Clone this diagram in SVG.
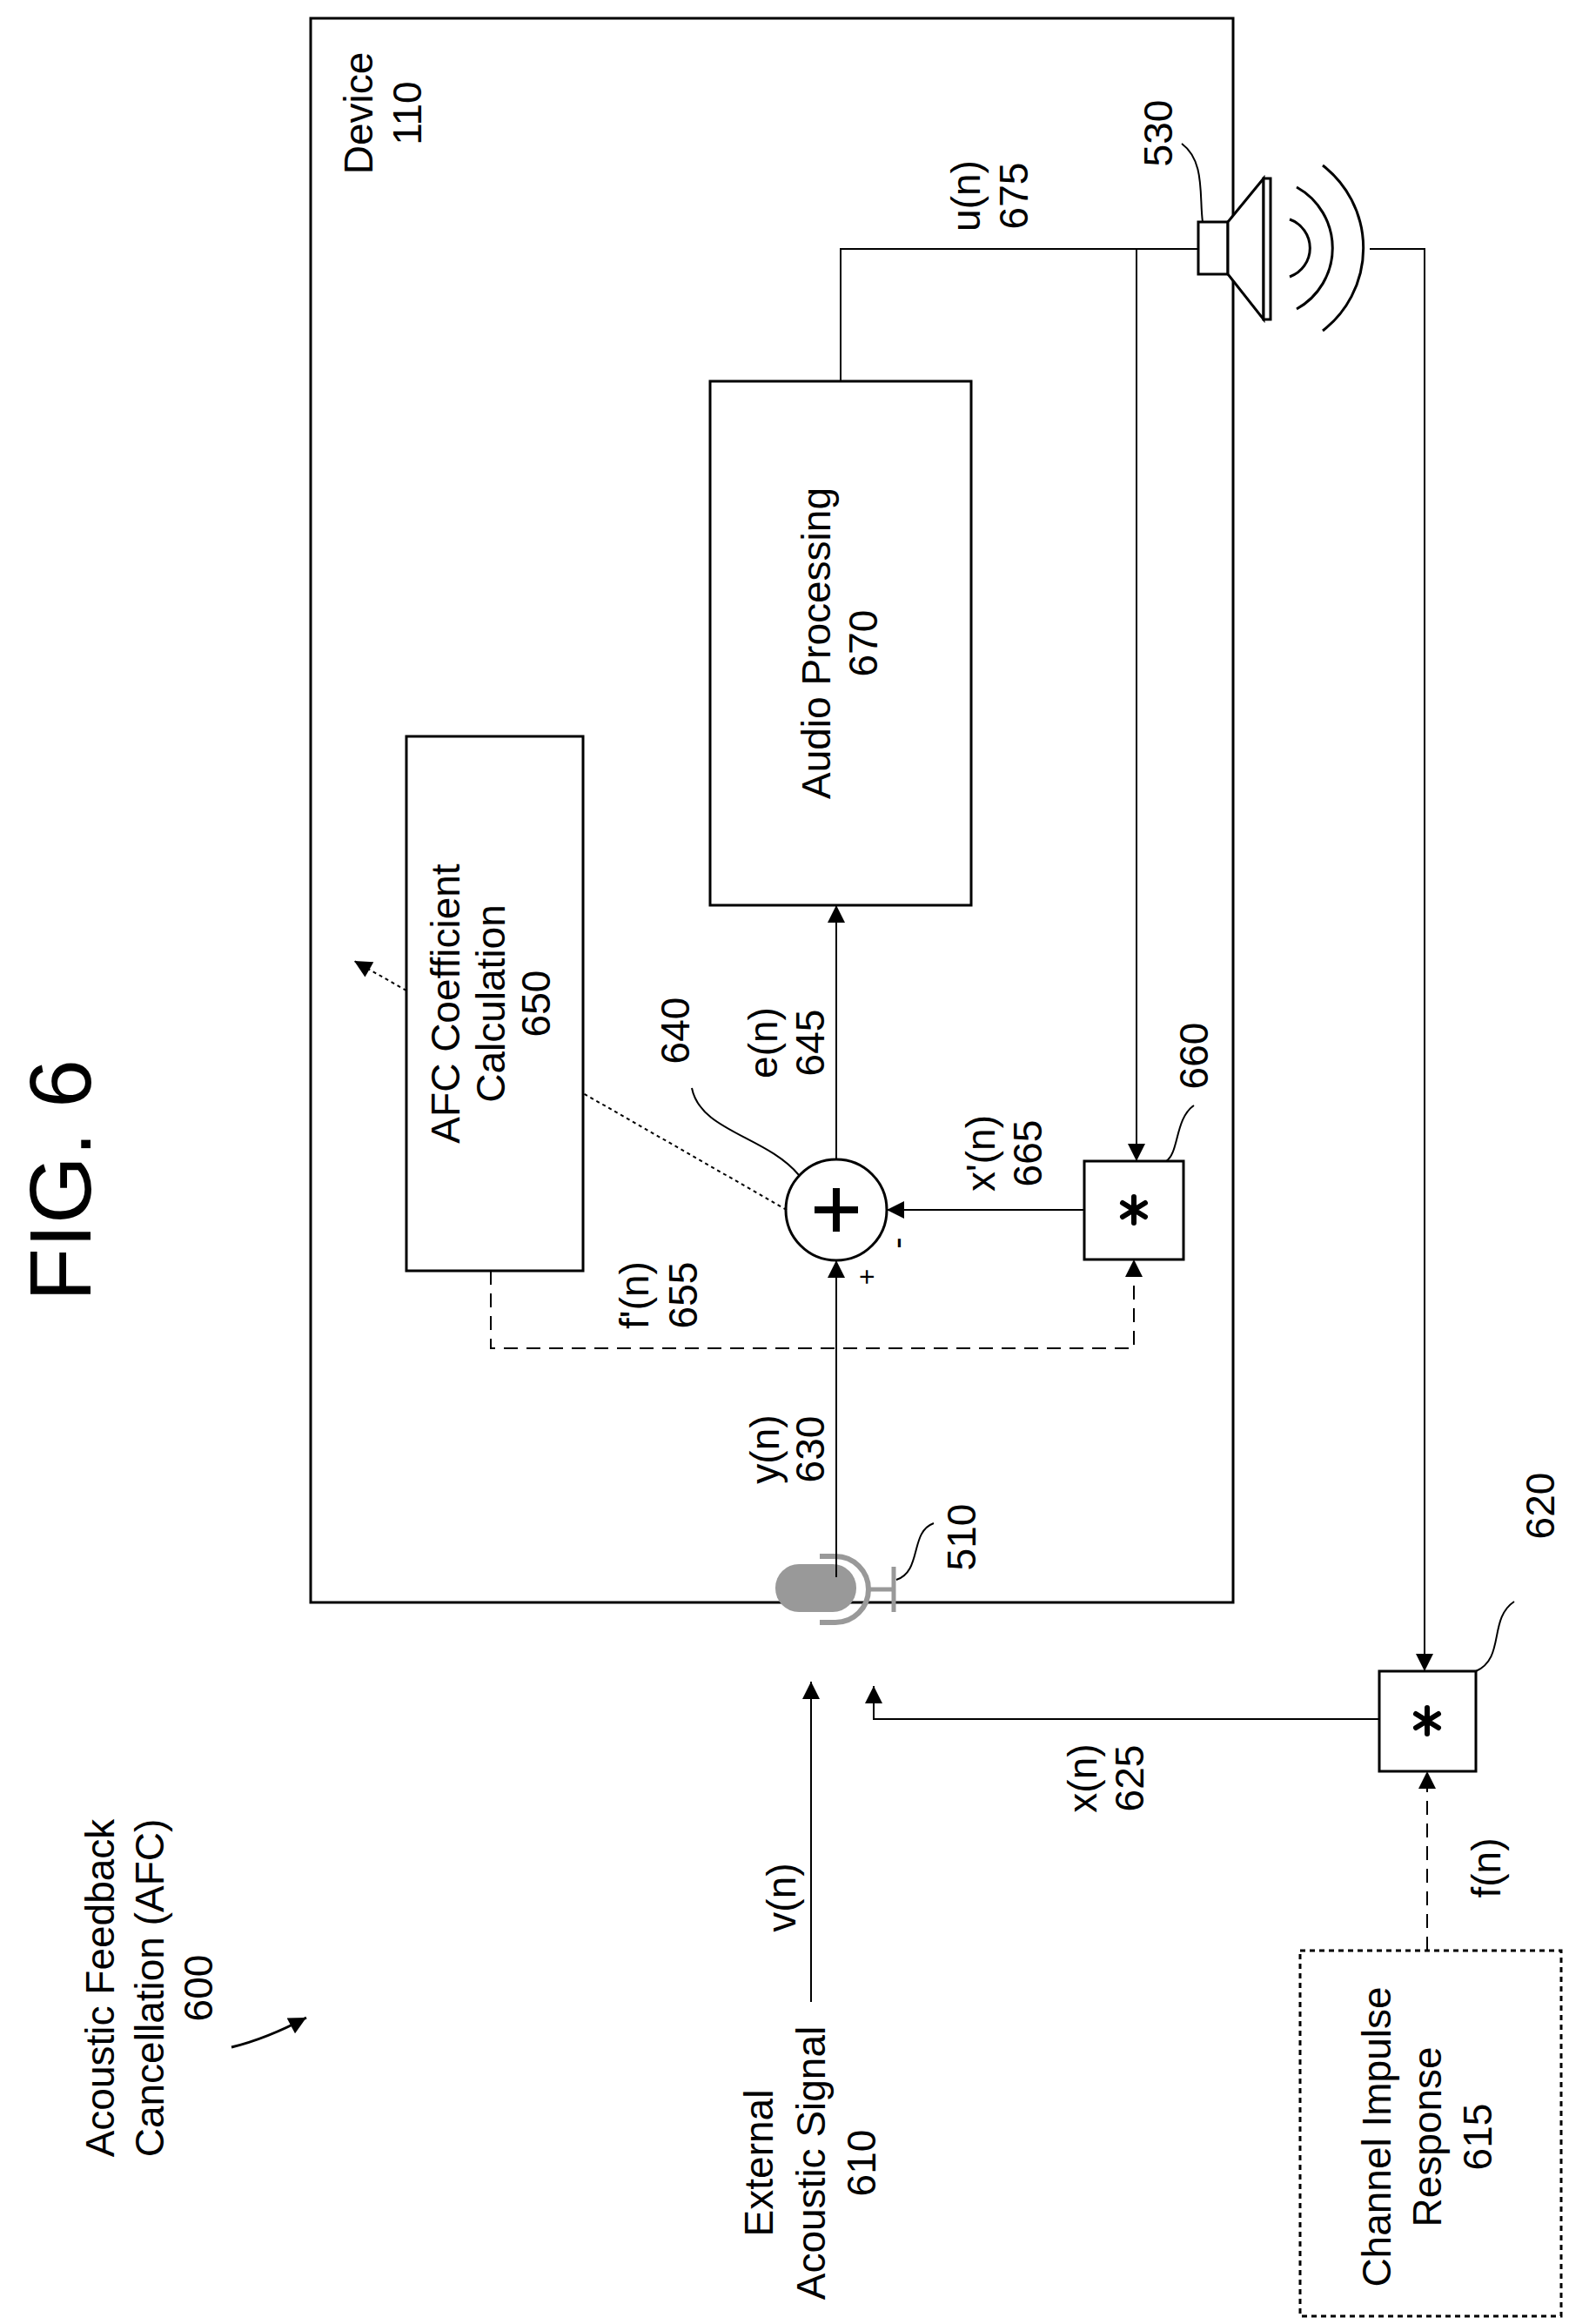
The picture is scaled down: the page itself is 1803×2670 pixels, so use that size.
<svg xmlns="http://www.w3.org/2000/svg" width="1803" height="2670" viewBox="0 0 1803 2670">
<style>
text{font-family:"Liberation Sans",Arial,sans-serif;font-size:46px;fill:#000;text-anchor:middle;dominant-baseline:central}
.b{fill:#fff;stroke:#000;stroke-width:3}
.l{fill:none;stroke:#000;stroke-width:2}
.d{fill:none;stroke:#000;stroke-width:2;stroke-dasharray:16,10}
.o{fill:none;stroke:#000;stroke-width:2;stroke-dasharray:4,4}
.ast{stroke:#000;stroke-width:6;stroke-linecap:round}
</style>
<defs>
<marker id="A" viewBox="0 0 10 10" refX="10" refY="5" markerWidth="24" markerHeight="20" markerUnits="userSpaceOnUse" orient="auto"><path d="M0,0L10,5L0,10z"/></marker>
</defs>
<text x="69" y="1356" style="font-size:100px" transform="rotate(-90 69 1356)">FIG. 6</text>
<g id="device"><rect x="357" y="21" width="1060" height="1820" fill="none" stroke="#000" stroke-width="3"/>
<text x="412" y="130" transform="rotate(-90 412 130)">Device</text><text x="468" y="130" transform="rotate(-90 468 130)">110</text></g>
<g id="afc"><rect x="467" y="846" width="203" height="614" class="b"/>
<text x="512" y="1153" transform="rotate(-90 512 1153)">AFC Coefficient</text>
<text x="564" y="1153" transform="rotate(-90 564 1153)">Calculation</text>
<text x="616" y="1153" transform="rotate(-90 616 1153)">650</text></g>
<g id="audio"><rect x="816" y="438" width="300" height="602" class="b"/>
<text x="938" y="739" transform="rotate(-90 938 739)">Audio Processing</text>
<text x="992" y="739" transform="rotate(-90 992 739)">670</text></g>
<g id="sum"><circle cx="961" cy="1390" r="58" class="b"/>
<path d="M936,1390h50M961,1365v50" stroke="#000" stroke-width="8"/>
<text x="996" y="1467" style="font-size:32px" transform="rotate(-90 996 1467)">+</text>
<text x="1030" y="1428" style="font-size:40px" transform="rotate(-90 1030 1428)">-</text>
<text x="776" y="1184" transform="rotate(-90 776 1184)">640</text>
<path class="l" d="M795,1250C805,1300 880,1305 918,1350"/></g>
<g id="conv660"><rect x="1246" y="1334" width="114" height="113" class="b"/>
<path class="ast" d="M1303,1375V1405M1290,1382L1316,1398M1290,1398L1316,1382"/>
<text x="1372" y="1213" transform="rotate(-90 1372 1213)">660</text>
<path class="l" d="M1372,1270C1350,1285 1355,1325 1340,1334"/></g>
<g id="speaker"><rect x="1377" y="255" width="34" height="60" class="b"/>
<path class="b" d="M1411,255L1452,205V367L1411,315z"/>
<rect x="1452" y="205" width="8" height="162" class="b"/>
<path class="l" style="stroke-width:3" d="M1482,252A35,35 0 0 1 1482,318M1490,215A80,80 0 0 1 1490,355M1520,190A120,120 0 0 1 1520,380"/>
<text x="1331" y="153" transform="rotate(-90 1331 153)">530</text>
<path class="l" d="M1358,165C1385,185 1378,225 1382,255"/></g>
<g id="mic"><rect x="891" y="1797" width="93" height="55" rx="27" fill="#999"/>
<path d="M942,1788H960A38,38 0 0 1 960,1864H942" fill="none" stroke="#999" stroke-width="6"/>
<path d="M998,1826H1027M1027,1800V1852" stroke="#999" stroke-width="5"/>
<text x="1105" y="1766" transform="rotate(-90 1105 1766)">510</text>
<path class="l" d="M1073,1750C1045,1760 1060,1805 1030,1815"/></g>
<g id="conv620"><rect x="1585" y="1920" width="111" height="115" class="b"/>
<path class="ast" d="M1640,1962V1992M1627,1969L1653,1985M1627,1985L1653,1969"/>
<text x="1770" y="1730" transform="rotate(-90 1770 1730)">620</text>
<path class="l" d="M1740,1840C1710,1860 1730,1905 1696,1920"/></g>
<g id="cir"><rect x="1494" y="2241" width="300" height="420" fill="none" stroke="#000" stroke-width="3" stroke-dasharray="6,5"/>
<text x="1582" y="2455" transform="rotate(-90 1582 2455)">Channel Impulse</text>
<text x="1640" y="2455" transform="rotate(-90 1640 2455)">Response</text>
<text x="1698" y="2455" transform="rotate(-90 1698 2455)">615</text></g>
<g id="labels">
<text x="115" y="2284" transform="rotate(-90 115 2284)">Acoustic Feedback</text>
<text x="172" y="2284" transform="rotate(-90 172 2284)">Cancellation (AFC)</text>
<text x="228" y="2284" transform="rotate(-90 228 2284)">600</text>
<text x="872" y="2485" transform="rotate(-90 872 2485)">External</text>
<text x="932" y="2485" transform="rotate(-90 932 2485)">Acoustic Signal</text>
<text x="990" y="2485" transform="rotate(-90 990 2485)">610</text>
<text x="898" y="2180" transform="rotate(-90 898 2180)">v(n)</text>
<text x="1244" y="2043" transform="rotate(-90 1244 2043)">x(n)</text>
<text x="1298" y="2043" transform="rotate(-90 1298 2043)">625</text>
<text x="1708" y="2146" transform="rotate(-90 1708 2146)">f(n)</text>
<text x="879" y="1665" transform="rotate(-90 879 1665)">y(n)</text>
<text x="931" y="1665" transform="rotate(-90 931 1665)">630</text>
<text x="877" y="1198" transform="rotate(-90 877 1198)">e(n)</text>
<text x="931" y="1198" transform="rotate(-90 931 1198)">645</text>
<text x="1127" y="1325" transform="rotate(-90 1127 1325)">x'(n)</text>
<text x="1181" y="1325" transform="rotate(-90 1181 1325)">665</text>
<text x="729" y="1488" transform="rotate(-90 729 1488)">f'(n)</text>
<text x="785" y="1488" transform="rotate(-90 785 1488)">655</text>
<text x="1110" y="225" transform="rotate(-90 1110 225)">u(n)</text>
<text x="1165" y="225" transform="rotate(-90 1165 225)">675</text>
</g>
<g id="connectors">
<path class="l" d="M961,1812V1448" marker-end="url(#A)"/>
<path class="l" d="M961,1332V1040" marker-end="url(#A)"/>
<path class="l" d="M966,438V286H1377"/>
<path class="l" d="M1306,286V1334" marker-end="url(#A)"/>
<path class="l" d="M1246,1390H1019" marker-end="url(#A)"/>
<path class="d" d="M564,1460V1549H1303V1447" marker-end="url(#A)"/>
<path class="o" d="M904,1390L670,1256"/>
<path class="o" d="M467,1138L407,1104" marker-end="url(#A)"/>
<path class="l" d="M1574,286H1637V1920" marker-end="url(#A)"/>
<path class="l" d="M1585,1975H1004V1937" marker-end="url(#A)"/>
<path class="l" d="M932,2300V1932" marker-end="url(#A)"/>
<path class="d" d="M1640,2241V2035" marker-end="url(#A)"/>
<path class="l" style="stroke-width:3" d="M266,2352C295,2345 320,2335 352,2318" marker-end="url(#A)"/>
</g>
</svg>
